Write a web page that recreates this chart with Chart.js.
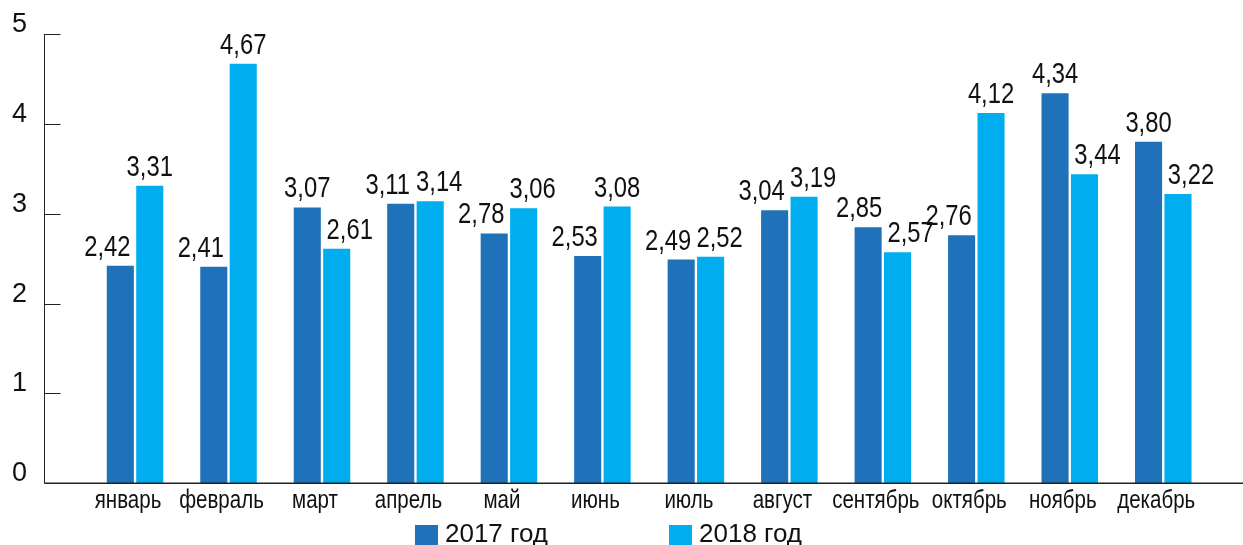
<!DOCTYPE html>
<html>
<head>
<meta charset="utf-8">
<script src="https://cdn.jsdelivr.net/npm/chart.js"></script>
<style>
  html, body { margin: 0; padding: 0; background: #fff; }
  #wrap { width: 1243px; height: 545px; }
</style>
</head>
<body>
<div id="wrap"><canvas id="c"></canvas></div>
<script>
// Data
const months = ['январь', 'февраль', 'март', 'апрель', 'май', 'июнь', 'июль', 'август', 'сентябрь', 'октябрь', 'ноябрь', 'декабрь'];
const values2017 = [2.42, 2.41, 3.07, 3.11, 2.78, 2.53, 2.49, 3.04, 2.85, 2.76, 4.34, 3.80];
const values2018 = [3.31, 4.67, 2.61, 3.14, 3.06, 3.08, 2.52, 3.19, 2.57, 4.12, 3.44, 3.22];
const seriesNames = ['2017 год', '2018 год'];
const yTicks = [0, 1, 2, 3, 4, 5];

const DARK = '#1f72b9';
const LIGHT = '#00aeef';
const SANS = "'Liberation Sans', Arial, sans-serif";
const NARROW_X = 0.82; // no narrow face installed, so squeeze Liberation Sans

const fmt = v => v.toFixed(2).replace('.', ',');

// draw text squeezed horizontally (Arial Narrow look)
function narrowText(ctx, text, x, y) {
  ctx.save();
  ctx.translate(x, y);
  ctx.scale(NARROW_X, 1);
  ctx.fillText(text, 0, 0);
  ctx.restore();
}

// y axis line with inward ticks, sitting left of the plot, and the long base line
const axisPlugin = {
  id: 'axisLines',
  afterDatasetsDraw(chart) {
    const { ctx, chartArea, scales } = chart;
    const axisX = Math.round(chartArea.left - 44) + 0.5;
    ctx.save();
    ctx.strokeStyle = '#222';
    ctx.lineWidth = 1;
    ctx.beginPath();
    ctx.moveTo(axisX, scales.y.getPixelForValue(yTicks[yTicks.length - 1]));
    ctx.lineTo(axisX, chartArea.bottom);
    yTicks.forEach(t => {
      const py = Math.round(scales.y.getPixelForValue(t)) + 0.5;
      ctx.moveTo(axisX, py);
      ctx.lineTo(axisX + 16, py);
    });
    ctx.stroke();
    ctx.lineWidth = 1.6;
    ctx.beginPath();
    ctx.moveTo(axisX, chartArea.bottom);
    ctx.lineTo(chart.width, chartArea.bottom);
    ctx.stroke();

    // month names under the categories
    ctx.font = '25px ' + SANS;
    ctx.fillStyle = '#111';
    ctx.textAlign = 'center';
    ctx.textBaseline = 'alphabetic';
    months.forEach((m, i) => {
      narrowText(ctx, m, scales.x.getPixelForTick(i) - 7, chartArea.bottom + 25);
    });
    ctx.restore();
  }
};

// value labels above bars; the lower of a pair is nudged outward so they don't collide
const labelPlugin = {
  id: 'valueLabels',
  afterDatasetsDraw(chart) {
    const { ctx } = chart;
    const sets = chart.data.datasets;
    ctx.save();
    ctx.font = '29px ' + SANS;
    ctx.fillStyle = '#111';
    ctx.textAlign = 'center';
    ctx.textBaseline = 'alphabetic';
    sets.forEach((ds, di) => {
      const other = sets[1 - di].data;
      const dir = di === 0 ? -1 : 1;
      chart.getDatasetMeta(di).data.forEach((bar, i) => {
        const v = ds.data[i];
        let shift = 0;
        if (v < other[i]) shift = 13;
        else if (Math.abs(v - other[i]) < 0.3) shift = 9;
        narrowText(ctx, fmt(v), bar.x + dir * shift, bar.y - 10);
      });
    });
    ctx.restore();
  }
};

// legend at the bottom edge, wide gap between the two items
const legendPlugin = {
  id: 'bottomLegend',
  afterDraw(chart) {
    const { ctx } = chart;
    const sets = chart.data.datasets;
    const box = 23, gapText = 7, gapItem = 121;
    ctx.save();
    ctx.font = '26px ' + SANS;
    const widths = sets.map(ds => box + gapText + ctx.measureText(ds.label).width);
    const total = widths.reduce((a, b) => a + b, 0) + gapItem * (sets.length - 1);
    let x = chart.width / 2 - total / 2 - 13;
    const base = chart.height - 3;
    sets.forEach((ds, i) => {
      ctx.fillStyle = ds.backgroundColor;
      ctx.fillRect(x, base - 17, box, 20);
      ctx.fillStyle = '#111';
      ctx.textBaseline = 'alphabetic';
      ctx.textAlign = 'left';
      ctx.fillText(ds.label, x + box + gapText, base);
      x += widths[i] + gapItem;
    });
    ctx.restore();
  }
};

new Chart(document.getElementById('c'), {
  type: 'bar',
  data: {
    labels: months,
    datasets: [
      { label: seriesNames[0], data: values2017, backgroundColor: DARK },
      { label: seriesNames[1], data: values2018, backgroundColor: LIGHT }
    ]
  },
  options: {
    responsive: true,
    maintainAspectRatio: false,
    animation: false,
    categoryPercentage: 0.63,
    barPercentage: 0.92,
    layout: { padding: { left: 12, right: 33, top: 34, bottom: 0 } },
    plugins: {
      legend: { display: false },
      tooltip: { enabled: false }
    },
    scales: {
      x: {
        grid: { display: false, drawTicks: false },
        border: { display: false },
        ticks: { display: false },
        afterFit: s => { s.height = 61.7; }
      },
      y: {
        min: 0,
        max: 5,
        grid: { display: false, drawTicks: false },
        border: { display: false },
        ticks: { stepSize: 1, color: '#111', font: { family: SANS, size: 27 }, padding: 0, crossAlign: 'far', labelOffset: -9.5 },
        afterFit: s => { s.width = 76.3; }
      }
    }
  },
  plugins: [axisPlugin, labelPlugin, legendPlugin]
});
</script>
</body>
</html>
